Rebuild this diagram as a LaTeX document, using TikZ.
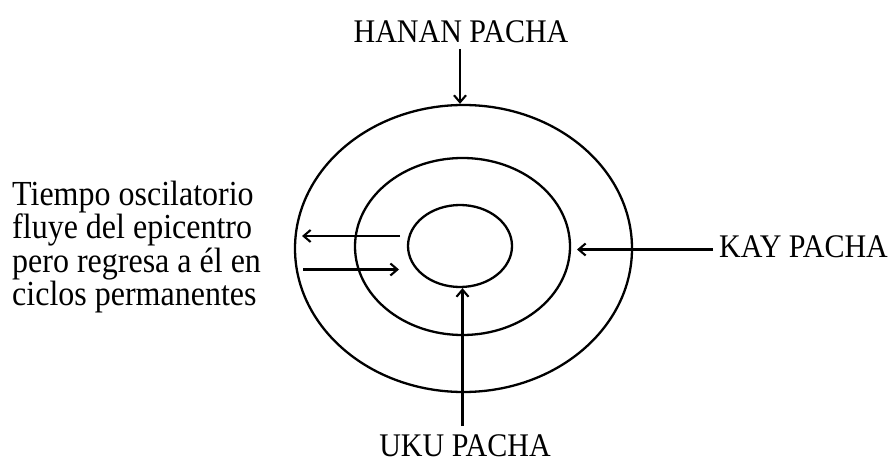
\documentclass[tikz,border=0pt]{standalone}
\usepackage{fontspec}
\setmainfont{Liberation Serif}
\usetikzlibrary{arrows.meta,shapes.geometric}
\tikzset{
  ring/.style={draw, ellipse, line width=2.3pt, inner sep=0pt},
  conn/.style={line width=2.1pt, -{Straight Barb[length=7pt,width=12pt,line width=2.1pt]}},
  lbl/.style={inner sep=0pt, font=\fontsize{30}{30}\selectfont},
  side/.style={inner sep=0pt, anchor=base west, font=\fontsize{32}{32}\selectfont},
}
\newcommand{\tall}[1]{\scalebox{1}[1.1]{#1}}
\begin{document}
\begin{tikzpicture}[x=1pt,y=-1pt]
\useasboundingbox (0,0) rectangle (893,462);
\fill[white] (0,0) rectangle (893,462);
% rings
\node[ring, minimum width=337pt, minimum height=287pt] (outer) at (463.5,248.5) {};
\node[ring, minimum width=215pt, minimum height=177pt] (middle) at (462.5,246.5) {};
\node[ring, minimum width=104pt, minimum height=82pt] (inner) at (460,246) {};
% labels
\node[lbl, anchor=base] (hanan) at (461,43) {\tall{HANAN PACHA}};
\node[lbl, anchor=base] (uku) at (465,456) {\tall{UKU PACHA}};
\node[lbl, anchor=base west] (kay) at (719,257) {\tall{KAY PACHA}};
\node[side] (t1) at (12,206) {\tall{Tiempo oscilatorio}};
\node[side] (t2) at (12,239) {\tall{fluye del epicentro}};
\node[side] (t3) at (12,272) {\tall{pero regresa a él en}};
\node[side] (t4) at (12,305) {\tall{ciclos permanentes}};
% connector ends
\coordinate (hs) at (460,49);
\coordinate (us) at (462.5,426);
\coordinate (ks) at (713,249.5);
\coordinate (kt) at (577,249.5);
\coordinate (l1s) at (400,236);
\coordinate (l1t) at (302,236);
\coordinate (l2s) at (303,269.5);
\coordinate (l2t) at (399,269.5);
% connectors
\draw[conn] (hs) -- (hs |- outer.north);
\draw[conn] (us) -- (us |- inner.south);
\draw[conn] (ks) -- (kt);
\draw[conn, line width=1.7pt] (l1s) -- (l1t);
\draw[conn] (l2s) -- (l2t);
\end{tikzpicture}
\end{document}
